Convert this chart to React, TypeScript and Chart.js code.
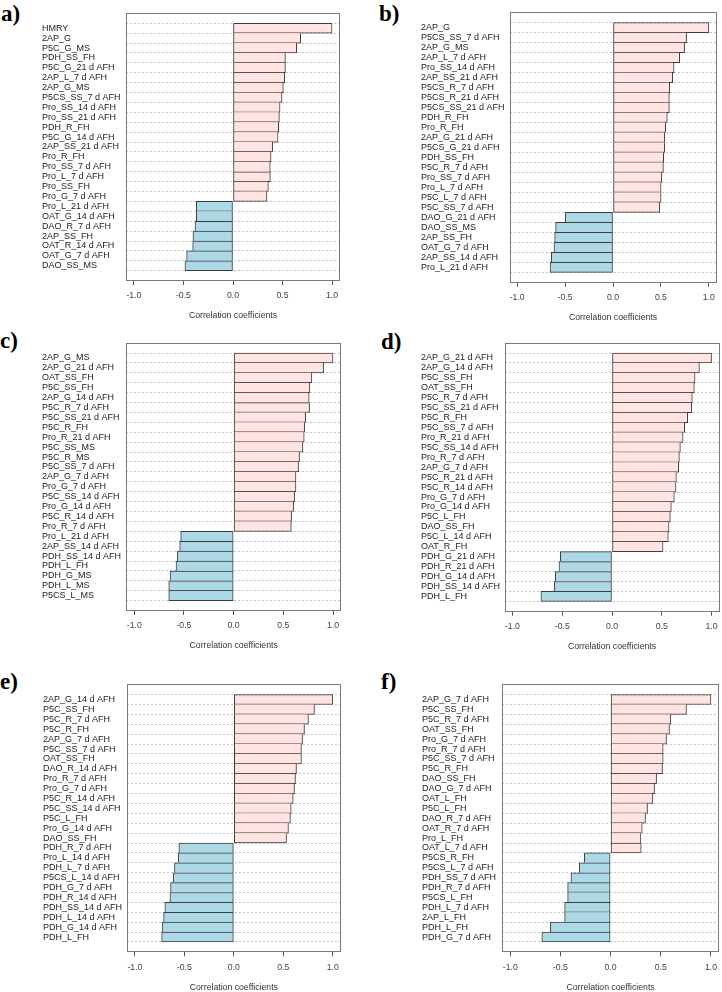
import React, { useEffect, useRef } from "react";
import { Chart, registerables } from "chart.js";
Chart.register(...registerables);

// ---------------- DATA ----------------
const labelsA = ["HMRY", "2AP_G", "P5C_G_MS", "PDH_SS_FH", "P5C_G_21 d AFH", "2AP_L_7 d AFH", "2AP_G_MS", "P5CS_SS_7 d AFH", "Pro_SS_14 d AFH", "Pro_SS_21 d AFH", "PDH_R_FH", "P5C_G_14 d AFH", "2AP_SS_21 d AFH", "Pro_R_FH", "Pro_SS_7 d AFH", "Pro_L_7 d AFH", "Pro_SS_FH", "Pro_G_7 d AFH", "Pro_L_21 d AFH", "OAT_G_14 d AFH", "DAO_R_7 d AFH", "2AP_SS_FH", "OAT_R_14 d AFH", "OAT_G_7 d AFH", "DAO_SS_MS"];
const valuesA = [1.0, 0.683, 0.643, 0.529, 0.529, 0.522, 0.508, 0.495, 0.475, 0.468, 0.461, 0.455, 0.40, 0.384, 0.376, 0.377, 0.357, 0.343, -0.370, -0.370, -0.384, -0.404, -0.407, -0.468, -0.485];

const labelsB = ["2AP_G", "P5CS_SS_7 d AFH", "2AP_G_MS", "2AP_L_7 d AFH", "Pro_SS_14 d AFH", "2AP_SS_21 d AFH", "P5CS_R_7 d AFH", "P5CS_R_21 d AFH", "P5CS_SS_21 d AFH", "PDH_R_FH", "Pro_R_FH", "2AP_G_21 d AFH", "P5CS_G_21 d AFH", "PDH_SS_FH", "P5C_R_7 d AFH", "Pro_SS_7 d AFH", "Pro_L_7 d AFH", "P5C_L_7 d AFH", "P5C_SS_7 d AFH", "DAO_G_21 d AFH", "DAO_SS_MS", "2AP_SS_FH", "OAT_G_7 d AFH", "2AP_SS_14 d AFH", "Pro_L_21 d AFH"];
const valuesB = [1.0, 0.768, 0.747, 0.696, 0.637, 0.623, 0.592, 0.588, 0.588, 0.567, 0.55, 0.54, 0.54, 0.529, 0.526, 0.509, 0.502, 0.502, 0.488, -0.498, -0.599, -0.609, -0.616, -0.644, -0.657];

const labelsC = ["2AP_G_MS", "2AP_G_21 d AFH", "OAT_SS_FH", "P5C_SS_FH", "2AP_G_14 d AFH", "P5C_R_7 d AFH", "P5C_SS_21 d AFH", "P5C_R_FH", "Pro_R_21 d AFH", "P5C_SS_MS", "P5C_R_MS", "P5C_SS_7 d AFH", "2AP_G_7 d AFH", "Pro_G_7 d AFH", "P5C_SS_14 d AFH", "Pro_G_14 d AFH", "P5C_R_14 d AFH", "Pro_R_7 d AFH", "Pro_L_21 d AFH", "2AP_SS_14 d AFH", "PDH_SS_14 d AFH", "PDH_L_FH", "PDH_G_MS", "PDH_L_MS", "P5CS_L_MS"];
const valuesC = [1.0, 0.905, 0.787, 0.767, 0.76, 0.764, 0.724, 0.714, 0.71, 0.697, 0.663, 0.653, 0.627, 0.627, 0.613, 0.603, 0.583, 0.58, -0.533, -0.543, -0.566, -0.58, -0.64, -0.653, -0.653];

const labelsD = ["2AP_G_21 d AFH", "2AP_G_14 d AFH", "P5C_SS_FH", "OAT_SS_FH", "P5C_R_7 d AFH", "P5C_SS_21 d AFH", "P5C_R_FH", "P5C_SS_7 d AFH", "Pro_R_21 d AFH", "P5C_SS_14 d AFH", "Pro_R_7 d AFH", "2AP_G_7 d AFH", "P5C_R_21 d AFH", "P5C_R_14 d AFH", "Pro_G_7 d AFH", "Pro_G_14 d AFH", "P5C_L_FH", "DAO_SS_FH", "P5C_L_14 d AFH", "OAT_R_FH", "PDH_G_21 d AFH", "PDH_R_21 d AFH", "PDH_G_14 d AFH", "PDH_SS_14 d AFH", "PDH_L_FH"];
const valuesD = [1.0, 0.878, 0.834, 0.827, 0.807, 0.80, 0.76, 0.73, 0.714, 0.687, 0.677, 0.67, 0.647, 0.643, 0.626, 0.596, 0.586, 0.573, 0.566, 0.513, -0.519, -0.533, -0.57, -0.58, -0.714];

const labelsE = ["2AP_G_14 d AFH", "P5C_SS_FH", "P5C_R_7 d AFH", "P5C_R_FH", "2AP_G_7 d AFH", "P5C_SS_7 d AFH", "OAT_SS_FH", "DAO_R_14 d AFH", "Pro_R_7 d AFH", "Pro_G_7 d AFH", "P5C_R_14 d AFH", "P5C_SS_14 d AFH", "P5C_L_FH", "Pro_G_14 d AFH", "DAO_SS_FH", "PDH_R_7 d AFH", "Pro_L_14 d AFH", "PDH_L_7 d AFH", "P5CS_L_14 d AFH", "PDH_G_7 d AFH", "PDH_R_14 d AFH", "PDH_SS_14 d AFH", "PDH_L_14 d AFH", "PDH_G_14 d AFH", "PDH_L_FH"];
const valuesE = [1.0, 0.815, 0.754, 0.714, 0.694, 0.683, 0.683, 0.633, 0.623, 0.613, 0.60, 0.58, 0.572, 0.552, 0.532, -0.556, -0.562, -0.60, -0.613, -0.64, -0.646, -0.697, -0.71, -0.725, -0.73];

const labelsF = ["2AP_G_7 d AFH", "P5C_SS_FH", "P5C_R_7 d AFH", "OAT_SS_FH", "Pro_G_7 d AFH", "Pro_R_7 d AFH", "P5C_SS_7 d AFH", "P5C_R_FH", "DAO_SS_FH", "DAO_G_7 d AFH", "OAT_L_FH", "P5C_L_FH", "DAO_R_7 d AFH", "OAT_R_7 d AFH", "Pro_L_FH", "OAT_L_7 d AFH", "P5CS_R_FH", "P5CS_L_7 d AFH", "PDH_SS_7 d AFH", "PDH_R_7 d AFH", "P5CS_L_FH", "PDH_L_7 d AFH", "2AP_L_FH", "PDH_L_FH", "PDH_G_7 d AFH"];
const valuesF = [1.0, 0.756, 0.60, 0.587, 0.557, 0.524, 0.524, 0.517, 0.458, 0.438, 0.421, 0.368, 0.348, 0.315, 0.302, 0.305, -0.262, -0.312, -0.395, -0.428, -0.428, -0.458, -0.458, -0.60, -0.685];

const xTicks = [-1, -0.5, 0, 0.5, 1];
const axisTitle = "Correlation coefficients";
const panelLetters = ["a)", "b)", "c)", "d)", "e)", "f)"];

// ---------------- LAYOUT ----------------
const layouts = [
  { labelX: 42.7, boxL: 126, boxR: 340, boxT: 13, boxB: 281, lx: 1, ly: 2 },
  { labelX: 421.7, boxL: 509.5, boxR: 716.5, boxT: 12.3, boxB: 282.7, lx: 379, ly: 2 },
  { labelX: 42.7, boxL: 126.3, boxR: 341, boxT: 342.7, boxB: 611, lx: 0, ly: 329 },
  { labelX: 421.7, boxL: 504.5, boxR: 719.5, boxT: 342.7, boxB: 611.7, lx: 381, ly: 330 },
  { labelX: 43.3, boxL: 127, boxR: 340.7, boxT: 684.3, boxB: 952.3, lx: 0, ly: 670 },
  { labelX: 422.7, boxL: 502.2, boxR: 719, boxT: 684.3, boxB: 952.3, lx: 381, ly: 670 },
];

const POS = "#FFE4E1";
const NEG = "#ADD8E6";
const SANS = "'Liberation Sans', Arial, Helvetica, sans-serif";
const TITLE_OFF = 35;
const SMALL = 8.7;

const framePlugin = {
  id: "frame",
  afterDraw(chart: any) {
    const { ctx, chartArea: a } = chart;
    ctx.save();
    ctx.strokeStyle = "#7a7a7a";
    ctx.lineWidth = 1;
    const l = Math.round(a.left) + 0.5;
    const t = Math.round(a.top) + 0.5;
    const r = Math.round(a.right) - 0.5;
    const b = Math.round(a.bottom) - 0.5;
    ctx.strokeRect(l, t, r - l, b - t);
    ctx.restore();
  },
};

function Panel({ labels, values, g }: { labels: string[]; values: number[]; g: any }) {
  const ref = useRef<HTMLCanvasElement>(null);
  const left = Math.floor(g.labelX);
  const top = Math.floor(g.boxT) - 2;
  const right = Math.min(722, Math.ceil(g.boxR) + 2);
  const bottom = Math.ceil(g.boxB + TITLE_OFF + 8);
  const W = right - left;
  const H = bottom - top;

  useEffect(() => {
    const n = labels.length;
    const same = (a: number, b: number) => Math.sign(values[a]) === Math.sign(values[b]);
    const lh = SMALL * 1.2;
    const chart = new Chart(ref.current as HTMLCanvasElement, {
      type: "bar",
      data: {
        datasets: [
          {
            data: values.map((v, i) => ({ x: v, y: i })),
            backgroundColor: values.map((v) => (v >= 0 ? POS : NEG)),
            borderColor: "#3c3c3c",
            borderWidth: (ctx: any) => {
              const i = ctx.dataIndex;
              const v = Math.abs(values[i]);
              const topW = i === 0 || !same(i - 1, i) || Math.abs(values[i - 1]) < v ? 1 : 0;
              const botW = i === n - 1 || !same(i, i + 1) || Math.abs(values[i + 1]) <= v ? 1 : 0;
              return { top: topW, bottom: botW, left: 1, right: 1 };
            },
            borderSkipped: false,
            barPercentage: 1,
            categoryPercentage: 1,
          } as any,
        ],
      },
      options: {
        indexAxis: "y",
        responsive: false,
        animation: false,
        events: [],
        layout: { padding: { top: g.boxT - top, right: right - g.boxR, left: 0, bottom: 0 } },
        plugins: { legend: { display: false }, tooltip: { enabled: false } },
        scales: {
          x: {
            type: "linear",
            min: -1.08,
            max: 1.08,
            afterBuildTicks: (s: any) => {
              s.ticks = xTicks.map((v) => ({ value: v }));
            },
            afterFit: (s: any) => {
              s.height = bottom - g.boxB;
              s.paddingLeft = 0;
              s.paddingRight = 0;
            },
            grid: { drawOnChartArea: false, drawTicks: true, tickLength: 4, color: "#555" },
            border: { display: false },
            ticks: {
              padding: 15 - 4 - lh / 2,
              font: { family: SANS, size: SMALL },
              color: "#444",
              maxRotation: 0,
              autoSkip: false,
              callback: (v: any) => Number(v).toFixed(1),
            },
            title: {
              display: true,
              text: axisTitle,
              color: "#333",
              font: { family: SANS, size: SMALL },
              padding: { top: 0, bottom: bottom - (g.boxB + TITLE_OFF) - lh / 2 },
            },
          },
          y: {
            type: "linear",
            reverse: true,
            min: -1,
            max: n,
            afterBuildTicks: (s: any) => {
              s.ticks = labels.map((_, i) => ({ value: i }));
            },
            afterFit: (s: any) => {
              s.width = g.boxL - left;
              s.paddingTop = 0;
              s.paddingBottom = 0;
            },
            grid: { drawTicks: false, color: "#c4c4c4", lineWidth: 1 },
            border: { display: false, dash: [2, 2] },
            ticks: {
              crossAlign: "far",
              padding: 0,
              autoSkip: false,
              font: { family: SANS, size: 9 },
              color: "#222",
              callback: (v: any) => labels[Number(v)] ?? "",
            },
          },
        },
      } as any,
      plugins: [framePlugin],
    });
    return () => chart.destroy();
  }, []);

  return (
    <canvas
      ref={ref}
      width={W}
      height={H}
      style={{ position: "absolute", left, top, width: W, height: H }}
    />
  );
}

const panels = [
  { labels: labelsA, values: valuesA },
  { labels: labelsB, values: valuesB },
  { labels: labelsC, values: valuesC },
  { labels: labelsD, values: valuesD },
  { labels: labelsE, values: valuesE },
  { labels: labelsF, values: valuesF },
];

export default function App() {
  return (
    <div style={{ position: "absolute", left: 0, top: 0, width: 722, height: 992, background: "#fff", overflow: "hidden" }}>
      {panels.map((p, i) => (
        <React.Fragment key={i}>
          <Panel labels={p.labels} values={p.values} g={layouts[i]} />
          <div
            style={{
              position: "absolute",
              left: layouts[i].lx,
              top: layouts[i].ly,
              fontFamily: "'Liberation Serif', 'Times New Roman', serif",
              fontWeight: "bold",
              fontSize: 23,
              lineHeight: "1",
              color: "#000",
            }}
          >
            {panelLetters[i]}
          </div>
        </React.Fragment>
      ))}
    </div>
  );
}
